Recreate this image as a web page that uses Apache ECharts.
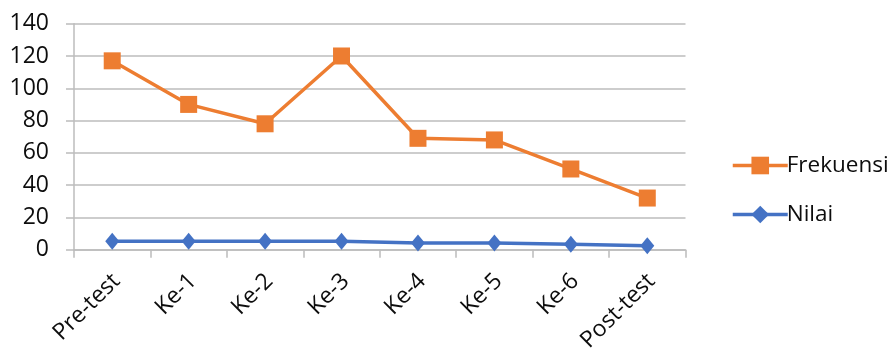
<!DOCTYPE html>
<html>
<head>
<meta charset="utf-8">
<script src="https://cdn.jsdelivr.net/npm/echarts@6/dist/echarts.min.js"></script>
<style>
  html, body { margin: 0; padding: 0; background: #fff; }
  #chart { width: 890px; height: 349px; }
</style>
</head>
<body>
<div id="chart"></div>
<script>
// Session labels along the x axis
const categories = ['Pre-test', 'Ke-1', 'Ke-2', 'Ke-3', 'Ke-4', 'Ke-5', 'Ke-6', 'Post-test'];
// Frequency per session
const frekuensi = [117, 90, 78, 120, 69, 68, 50, 32];
// Score per session
const nilai = [5.3, 5.3, 5.3, 5.3, 4.1, 4.1, 3.4, 2.4];
// Value axis range
const yMin = 0, yMax = 140, yStep = 20;

const FONT = '"Open Sans", sans-serif';
const TEXT = '#0d0d0d';
const GRID = '#bcbcbc';

const chart = echarts.init(document.getElementById('chart'), null, { renderer: 'canvas' });
chart.setOption({
  animation: false,
  backgroundColor: '#fff',
  grid: {
    left: 74, right: 204.5, top: 23.7, bottom: 99.3,
    containLabel: false,
    outerBoundsMode: 'none'
  },
  legend: {
    orient: 'vertical',
    left: 726,
    top: 149,
    itemWidth: 55,
    itemHeight: 22,
    itemGap: 26,
    lineStyle: { width: 3.5 },
    textStyle: { fontFamily: FONT, fontSize: 22.5, color: TEXT, padding: [0, 0, 0, -6] },
    data: ['Frekuensi', 'Nilai']
  },
  xAxis: {
    type: 'category',
    data: categories,
    boundaryGap: true,
    axisLine: { show: true, lineStyle: { color: GRID, width: 1.5 } },
    axisTick: { show: true, length: 8, alignWithLabel: false, lineStyle: { color: GRID, width: 1.5 } },
    axisLabel: {
      rotate: 45,
      margin: 32,
      padding: [0, -6, 0, 0],
      interval: 0,
      fontFamily: FONT,
      fontSize: 23,
      color: TEXT
    },
    splitLine: { show: false }
  },
  yAxis: {
    type: 'value',
    min: yMin,
    max: yMax,
    interval: yStep,
    axisLine: { show: true, lineStyle: { color: GRID, width: 1.5 } },
    axisTick: { show: true, length: 8, lineStyle: { color: GRID, width: 1.5 } },
    axisLabel: { margin: 25, fontFamily: FONT, fontSize: 23, color: TEXT },
    splitLine: { show: true, lineStyle: { color: GRID, width: 1.5 } }
  },
  series: [
    {
      name: 'Frekuensi',
      type: 'line',
      data: frekuensi,
      symbol: 'rect',
      symbolSize: 17,
      color: '#ed7d31',
      lineStyle: { color: '#ed7d31', width: 3.5 },
      itemStyle: { color: '#ed7d31' },
      z: 3
    },
    {
      name: 'Nilai',
      type: 'line',
      data: nilai,
      symbol: 'diamond',
      symbolSize: [14, 17],
      color: '#4472c4',
      lineStyle: { color: '#4472c4', width: 3.5 },
      itemStyle: { color: '#4472c4' },
      z: 2
    }
  ]
});
</script>
</body>
</html>
